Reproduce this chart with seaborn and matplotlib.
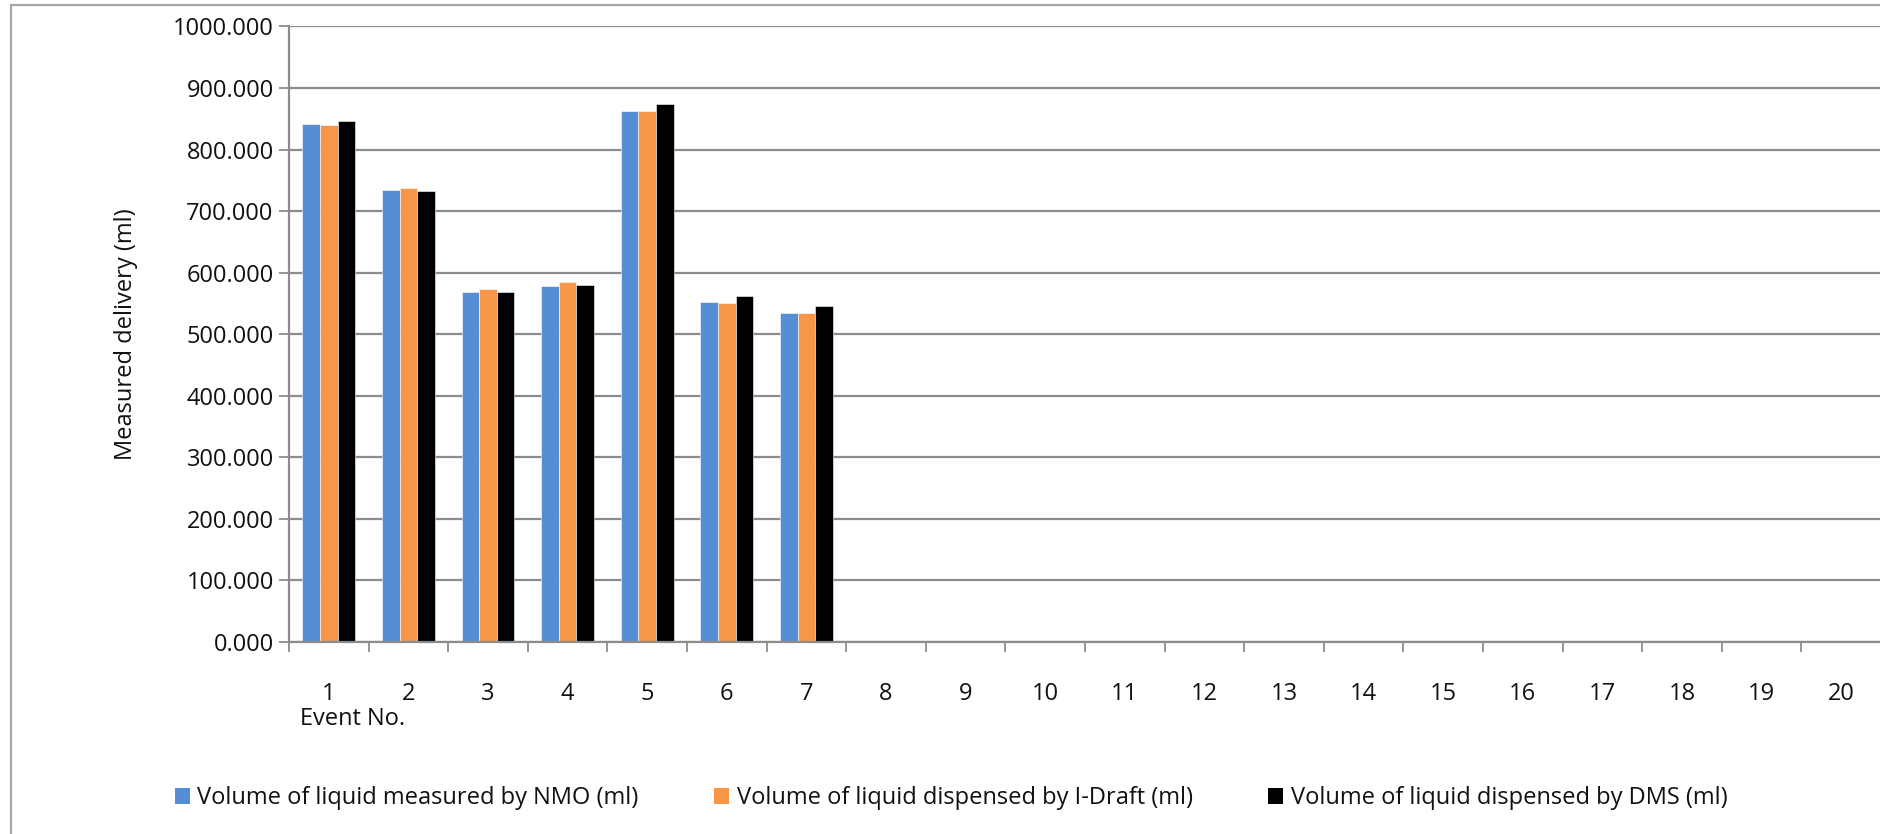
import matplotlib
matplotlib.use("Agg")
import matplotlib.pyplot as plt
import matplotlib.patches as mpatches
from matplotlib.ticker import FormatStrFormatter, FixedLocator
import seaborn as sns
import pandas as pd
import numpy as np

# ---- data ----
events = [str(i) for i in range(1, 21)]
nmo = [842, 735, 569, 579, 862.5, 552.5, 535]
idraft = [840.5, 738, 574, 585, 863, 551, 534]
dms = [846, 732.5, 568, 580, 874.5, 562, 545]
series_names = [
    "Volume of liquid measured by NMO (ml)",
    "Volume of liquid dispensed by I-Draft (ml)",
    "Volume of liquid dispensed by DMS (ml)",
]
colors = ["#558ED5", "#F79646", "#000000"]
yticks = list(range(0, 1001, 100))

rows = []
for name, vals in zip(series_names, [nmo, idraft, dms]):
    for i, ev in enumerate(events):
        v = vals[i] if i < len(vals) else np.nan
        rows.append({"Event": ev, "Series": name, "Value": v})
df = pd.DataFrame(rows)

sns.set_theme(style="white")
plt.rcParams["font.family"] = ["Open Sans", "DejaVu Sans"]
text_color = "#111111"
grid_color = "#8C8C8C"
fs = 17

W, H = 1881, 834
fig = plt.figure(figsize=(W / 100, H / 100), dpi=100)
ax = fig.add_axes([289 / W, 1 - 642 / H, (W - 289) / W, (642 - 26.4) / H])

sns.barplot(
    data=df, x="Event", y="Value", hue="Series", order=events,
    hue_order=series_names, palette=colors, width=0.665, gap=0,
    errorbar=None, ax=ax, legend=False, saturation=1,
    edgecolor="white", linewidth=0.4,
)

ax.set_xlim(-0.5, len(events) - 0.5)
ax.set_ylim(0, 1000)
ax.set_yticks(yticks)
ax.yaxis.set_major_formatter(FormatStrFormatter("%.3f"))
ax.yaxis.grid(True, color=grid_color, linewidth=1.6)
ax.set_axisbelow(True)
for s in ["top", "right"]:
    ax.spines[s].set_visible(False)
for s in ["left", "bottom"]:
    ax.spines[s].set_color(grid_color)
    ax.spines[s].set_linewidth(1.6)

ax.tick_params(axis="y", which="major", length=7, width=1.3, color=grid_color,
               labelsize=fs, labelcolor=text_color, pad=4, left=True)
ax.tick_params(axis="x", which="major", length=0, labelsize=fs,
               labelcolor=text_color, pad=29)
ax.xaxis.set_minor_locator(FixedLocator(np.arange(-0.5, len(events), 1.0)))
ax.tick_params(axis="x", which="minor", length=7, width=1.3, color=grid_color,
               bottom=True)
ax.set_xlabel("")
ax.set_ylabel("")

fig.text(126 / W, 1 - 334 / H, "Measured delivery (ml)", rotation=90,
         ha="center", va="center", fontsize=fs, color=text_color)
fig.text(300 / W, 1 - 719 / H, "Event No.", ha="left", va="center",
         fontsize=fs, color=text_color)

handles = [mpatches.Patch(facecolor=c, edgecolor="none", label=n)
           for c, n in zip(colors, series_names)]
fig.legend(handles=handles, loc="center", bbox_to_anchor=(951 / W, 1 - 798 / H),
           ncol=3, frameon=False, fontsize=fs, handlelength=0.65,
           handleheight=0.65, handletextpad=0.3, columnspacing=3.2,
           labelcolor=text_color)

border = mpatches.Rectangle((11 / W, -0.05), 1.1, 1 - 5 / H + 0.05,
                            transform=fig.transFigure, fill=False,
                            edgecolor="#A6A6A6", linewidth=1.6, zorder=-1)
fig.patches.append(border)

fig.savefig("out.png", dpi=100)
